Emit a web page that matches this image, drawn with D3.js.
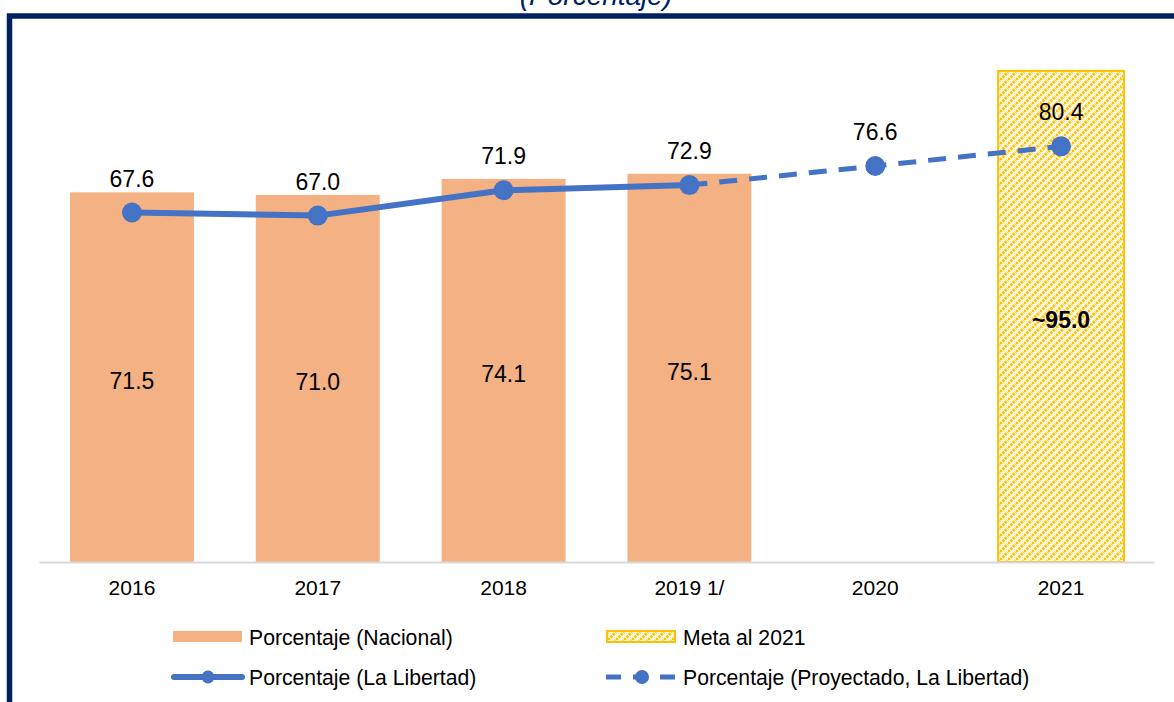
<!DOCTYPE html>
<html>
<head>
<meta charset="utf-8">
<script src="https://cdn.jsdelivr.net/npm/d3@7"></script>
<style>
  html, body { margin: 0; padding: 0; background: #fff; }
  svg { display: block; font-family: "Liberation Sans", Arial, sans-serif; }
</style>
</head>
<body>
<svg id="chart" width="1174" height="702"></svg>
<script>
const categories = ["2016", "2017", "2018", "2019 1/", "2020", "2021"];
const nacional   = [71.5, 71.0, 74.1, 75.1, null, null];
const libertad   = [67.6, 67.0, 71.9, 72.9, null, null];
const proyectado = [null, null, null, 72.9, 76.6, 80.4];
const meta       = [null, null, null, null, null, 95.0];
const metaLabel  = "~95.0";
const legendLabels = ["Porcentaje (Nacional)", "Meta al 2021", "Porcentaje (La Libertad)", "Porcentaje (Proyectado, La Libertad)"];
const titleText = "(Porcentaje)";

const svg = d3.select("#chart");
const blue = "#4472C4", orange = "#F4B183", gold = "#FFC000", navy = "#002060";

// pattern for meta bar
const defs = svg.append("defs");
const pat = defs.append("pattern").attr("id", "hatch").attr("patternUnits", "userSpaceOnUse")
  .attr("width", 8).attr("height", 8);
pat.append("rect").attr("width", 8).attr("height", 8).attr("fill", "#fff8e0");
pat.append("path").attr("d", "M-2,2 L2,-2 M0,8 L8,0 M6,10 L10,6")
  .attr("stroke", gold).attr("stroke-width", 3).attr("stroke-dasharray", "2.5,1").attr("opacity", 0.95);

// frame + title
svg.append("text").attr("x", 596).attr("y", 5).attr("text-anchor", "middle")
  .attr("font-size", 28).attr("font-style", "italic").attr("fill", navy).text(titleText);
svg.append("path").attr("d", "M9.5,702 V16 H1174").attr("fill", "none")
  .attr("stroke", navy).attr("stroke-width", 5.5);

const x = d3.scaleBand().domain(categories).range([39, 1154]).paddingInner(0.333).paddingOuter(0.1667);
const y = d3.scaleLinear().domain([0, 100]).range([562, 45]);

// bars
const barData = categories.map((c, i) => ({c, v: nacional[i]})).filter(d => d.v != null);
svg.selectAll(".bar").data(barData).enter().append("rect")
  .attr("x", d => x(d.c)).attr("width", x.bandwidth())
  .attr("y", d => y(d.v)).attr("height", d => y(0) - y(d.v)).attr("fill", orange);

const metaData = categories.map((c, i) => ({c, v: meta[i]})).filter(d => d.v != null);
svg.selectAll(".meta").data(metaData).enter().append("rect")
  .attr("x", d => x(d.c) - 1).attr("width", x.bandwidth() + 2)
  .attr("y", d => y(d.v)).attr("height", d => y(0) - y(d.v))
  .attr("fill", "url(#hatch)").attr("stroke", gold).attr("stroke-width", 2);

// axis
const axis = svg.append("g").attr("transform", `translate(0,${y(0)})`).call(d3.axisBottom(x).tickSize(0).tickPadding(18));
axis.select(".domain").attr("stroke", "#D9D9D9").attr("stroke-width", 2);
axis.selectAll("text").attr("font-size", 21).attr("fill", "#000").attr("font-family", "Liberation Sans, Arial, sans-serif");

// bar labels
svg.selectAll(".blab").data(barData).enter().append("text")
  .attr("x", d => x(d.c) + x.bandwidth() / 2).attr("y", d => (y(d.v) + y(0)) / 2 + 12)
  .attr("text-anchor", "middle").attr("font-size", 23).attr("fill", "#000").text(d => d.v.toFixed(1));
svg.selectAll(".mlab").data(metaData).enter().append("text")
  .attr("x", d => x(d.c) + x.bandwidth() / 2).attr("y", d => (y(d.v) + y(0)) / 2 + 12)
  .attr("text-anchor", "middle").attr("font-size", 23).attr("font-weight", "bold").attr("fill", "#000").text(metaLabel);

// lines
const cx = c => x(c) + x.bandwidth() / 2;
const libData = categories.map((c, i) => ({c, v: libertad[i]})).filter(d => d.v != null);
const proData = categories.map((c, i) => ({c, v: proyectado[i]})).filter(d => d.v != null);
const line = d3.line().x(d => cx(d.c)).y(d => y(d.v));
svg.append("path").datum(proData).attr("d", line).attr("fill", "none")
  .attr("stroke", blue).attr("stroke-width", 5).attr("stroke-dasharray", "18,12");
svg.append("path").datum(libData).attr("d", line).attr("fill", "none")
  .attr("stroke", blue).attr("stroke-width", 6).attr("stroke-linejoin", "round");
const allPts = libData.concat(proData.filter(d => !libData.some(l => l.c === d.c)));
svg.selectAll(".pt").data(allPts).enter().append("circle")
  .attr("cx", d => cx(d.c)).attr("cy", d => y(d.v)).attr("r", 10).attr("fill", blue);
svg.selectAll(".plab").data(allPts).enter().append("text")
  .attr("x", d => cx(d.c)).attr("y", d => y(d.v) - 26)
  .attr("text-anchor", "middle").attr("font-size", 23).attr("fill", "#000").text(d => d.v.toFixed(1));

// legend
const lg = svg.append("g").attr("font-size", 21.2).attr("fill", "#000");
lg.append("rect").attr("x", 173).attr("y", 631).attr("width", 69).attr("height", 11).attr("fill", orange);
lg.append("text").attr("x", 249).attr("y", 644.5).text(legendLabels[0]);
lg.append("rect").attr("x", 607).attr("y", 631).attr("width", 68).attr("height", 11)
  .attr("fill", "url(#hatch)").attr("stroke", gold).attr("stroke-width", 2);
lg.append("text").attr("x", 683).attr("y", 644.5).text(legendLabels[1]);
lg.append("line").attr("x1", 174).attr("x2", 242).attr("y1", 677).attr("y2", 677)
  .attr("stroke", blue).attr("stroke-width", 6).attr("stroke-linecap", "round");
lg.append("circle").attr("cx", 208).attr("cy", 677).attr("r", 6.5).attr("fill", blue);
lg.append("text").attr("x", 249).attr("y", 684.5).text(legendLabels[2]);
lg.append("line").attr("x1", 606).attr("x2", 676).attr("y1", 677).attr("y2", 677)
  .attr("stroke", blue).attr("stroke-width", 5).attr("stroke-dasharray", "15,12").attr("stroke-dashoffset", 0);
lg.append("circle").attr("cx", 642).attr("cy", 677).attr("r", 7).attr("fill", blue);
lg.append("text").attr("x", 683).attr("y", 684.5).text(legendLabels[3]);
</script>
</body>
</html>
